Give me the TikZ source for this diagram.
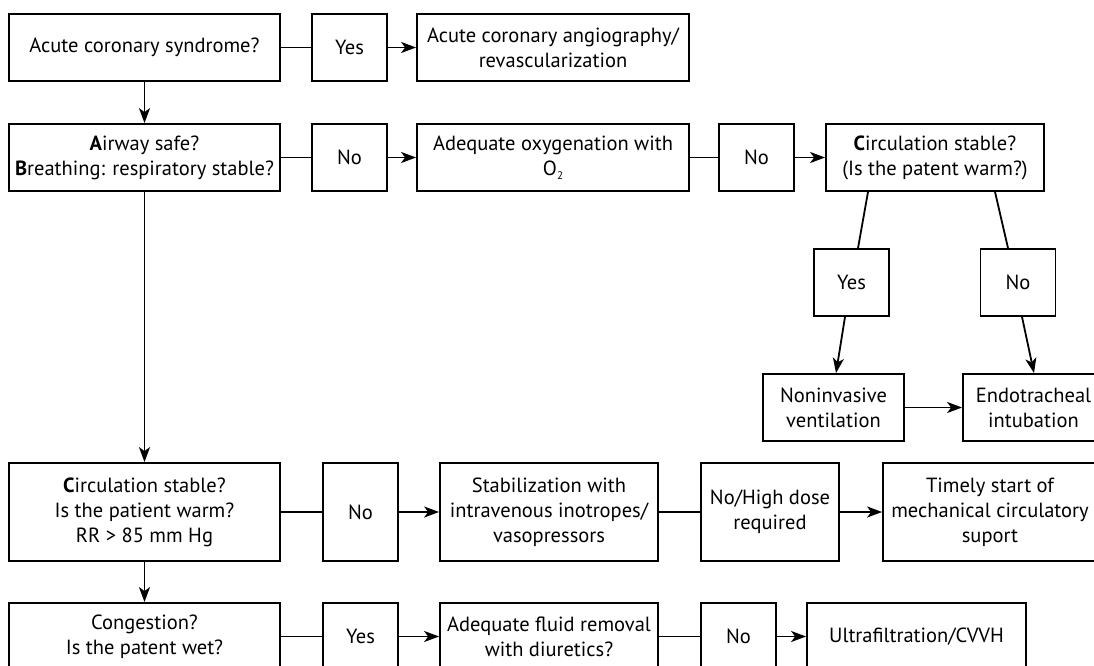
\documentclass[tikz,border=0pt]{standalone}
\usepackage{fontspec}
\setmainfont{PT Sans}
\usetikzlibrary{arrows.meta,calc}
\begin{document}
\begin{tikzpicture}[x=1pt,y=-1pt,
  box/.style={draw,line width=1.8pt,align=center,inner sep=0pt,font=\fontsize{20.5}{25}\selectfont},
  ln/.style={line width=1.8pt},
  arr/.style={line width=1.8pt,-{Stealth[length=15pt,width=11pt,inset=4pt]}}]
\useasboundingbox (0,0) rectangle (1094,666);
\clip (0,0) rectangle (1094,666);
% row 1
\node[box,minimum width=271pt,minimum height=67pt] (A) at (144.5,47.5) {Acute coronary syndrome?};
\node[box,minimum width=75pt,minimum height=67pt] (yes1) at (349.5,47.5) {Yes};
\node[box,minimum width=272pt,minimum height=67pt] (angio) at (553,47.5) {Acute coronary angiography/\\revascularization};
% row 2
\node[box,minimum width=271pt,minimum height=67pt] (B) at (144.5,157.5) {\textbf{A}irway safe?\\\textbf{B}reathing: respiratory stable?};
\node[box,minimum width=75pt,minimum height=67pt] (no1) at (349.5,157.5) {No};
\node[box,minimum width=272pt,minimum height=67pt] (oxy) at (553,157.5) {Adequate oxygenation with\\O\raisebox{-0.35ex}{\fontsize{11}{11}\selectfont 2}};
\node[box,minimum width=75pt,minimum height=67pt] (no2) at (756.5,157.5) {No};
\node[box,minimum width=218pt,minimum height=67pt] (circA) at (935,157.5) {\textbf{C}irculation stable?\\(Is the patent warm?)};
% branch
\node[box,minimum width=75pt,minimum height=67pt] (yes2) at (851.5,282.5) {Yes};
\node[box,minimum width=75pt,minimum height=67pt] (no3) at (1018,282.5) {No};
\node[box,minimum width=141pt,minimum height=67pt] (niv) at (833.5,407.5) {Noninvasive\\ventilation};
\node[box,minimum width=141pt,minimum height=67pt] (endo) at (1033.5,407.5) {Endotracheal\\intubation};
% row 4
\node[box,minimum width=271pt,minimum height=98pt] (C) at (144.5,512) {\textbf{C}irculation stable?\\Is the patient warm?\\RR > 85 mm Hg};
\node[box,minimum width=75pt,minimum height=98pt] (no4) at (360.5,512) {No};
\node[box,minimum width=218pt,minimum height=98pt] (stab) at (549,512) {Stabilization with\\intravenous inotropes/\\vasopressors};
\node[box,minimum width=138pt,minimum height=98pt] (nohigh) at (770,512) {No/High dose\\required};
\node[box,minimum width=214pt,minimum height=98pt] (timely) at (990,512) {Timely start of\\mechanical circulatory\\suport};
% row 5
\node[box,minimum width=271pt,minimum height=67pt] (D) at (144.5,636.5) {Congestion?\\Is the patent wet?};
\node[box,minimum width=75pt,minimum height=67pt] (yes5) at (360.5,636.5) {Yes};
\node[box,minimum width=218pt,minimum height=67pt] (fluid) at (549,636.5) {Adequate fluid removal\\with diuretics?};
\node[box,minimum width=75pt,minimum height=67pt] (no5) at (738.5,636.5) {No};
\node[box,minimum width=219pt,minimum height=67pt] (ultra) at (916.5,636.5) {Ultrafiltration/CVVH};
% connectors
\draw[ln] (A) -- (yes1);
\draw[arr] (yes1) -- (angio);
\draw[arr] (A) -- (B);
\draw[ln] (B) -- (no1);
\draw[arr] (no1) -- (oxy);
\draw[ln] (oxy) -- (no2);
\draw[arr] (no2) -- (circA);
\draw[ln] ([xshift=-67pt]circA.south) -- ([xshift=6.5pt]yes2.north);
\draw[ln] ([xshift=60pt]circA.south) -- ([xshift=-10pt]no3.north);
\draw[arr] ([xshift=-6.5pt]yes2.south) -- ([xshift=2.5pt]niv.north);
\draw[arr] ([xshift=4pt]no3.south) -- ([xshift=0.5pt]endo.north);
\draw[arr] (niv) -- (endo);
\draw[arr] (B) -- (C);
\draw[ln] (C) -- (no4);
\draw[arr] (no4) -- (stab);
\draw[ln] (stab) -- (nohigh);
\draw[arr] (nohigh) -- (timely);
\draw[arr] (C) -- (D);
\draw[ln] (D) -- (yes5);
\draw[arr] (yes5) -- (fluid);
\draw[ln] (fluid) -- (no5);
\draw[arr] (no5) -- (ultra);
\end{tikzpicture}
\end{document}
